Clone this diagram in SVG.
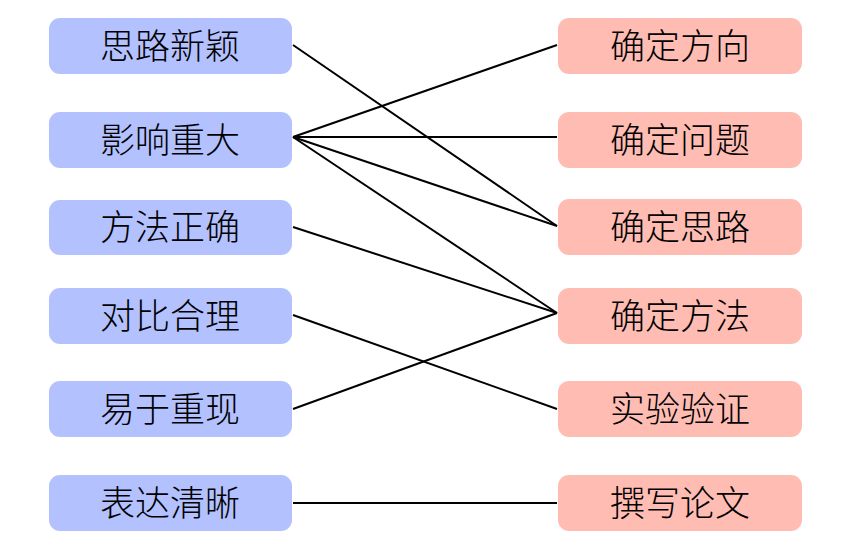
<svg xmlns="http://www.w3.org/2000/svg" width="849" height="550" viewBox="0 0 849 550">
<style>
.l rect{fill:#b3c1ff}
.r rect{fill:#ffbcb3}
text{font-family:"Noto Sans CJK SC","Liberation Sans",sans-serif;font-size:35px;font-weight:300;fill:#000;text-anchor:middle;dominant-baseline:central}
#edges line{stroke:#000;stroke-width:2}
</style>
<rect width="849" height="550" fill="#fff"/>
<g id="edges">
<line x1="293" y1="45" x2="557" y2="226"/>
<line x1="293" y1="137" x2="557" y2="45"/>
<line x1="293" y1="137" x2="557" y2="137"/>
<line x1="293" y1="137" x2="557" y2="226"/>
<line x1="293" y1="137" x2="557" y2="313"/>
<line x1="293" y1="227" x2="557" y2="313"/>
<line x1="293" y1="315" x2="557" y2="409"/>
<line x1="293" y1="409" x2="557" y2="313"/>
<line x1="293" y1="503" x2="557" y2="503"/>
</g>
<g id="L1" class="l"><rect x="49" y="18" width="243" height="56" rx="11"/><text x="170" y="43">思路新颖</text></g>
<g id="L2" class="l"><rect x="49" y="112" width="243" height="56" rx="11"/><text x="170" y="137">影响重大</text></g>
<g id="L3" class="l"><rect x="49" y="200" width="243" height="55" rx="11"/><text x="170" y="224.5">方法正确</text></g>
<g id="L4" class="l"><rect x="49" y="288" width="243" height="56" rx="11"/><text x="170" y="313">对比合理</text></g>
<g id="L5" class="l"><rect x="49" y="381" width="243" height="56" rx="11"/><text x="170" y="406">易于重现</text></g>
<g id="L6" class="l"><rect x="49" y="475" width="243" height="56" rx="11"/><text x="170" y="500">表达清晰</text></g>
<g id="R1" class="r"><rect x="558" y="18" width="244" height="56" rx="11"/><text x="680" y="43">确定方向</text></g>
<g id="R2" class="r"><rect x="558" y="112" width="244" height="56" rx="11"/><text x="680" y="137">确定问题</text></g>
<g id="R3" class="r"><rect x="558" y="199" width="244" height="56" rx="11"/><text x="680" y="224.5">确定思路</text></g>
<g id="R4" class="r"><rect x="558" y="288" width="244" height="56" rx="11"/><text x="680" y="313">确定方法</text></g>
<g id="R5" class="r"><rect x="558" y="381" width="244" height="56" rx="11"/><text x="680" y="406">实验验证</text></g>
<g id="R6" class="r"><rect x="558" y="475" width="244" height="56" rx="11"/><text x="680" y="500">撰写论文</text></g>
</svg>
